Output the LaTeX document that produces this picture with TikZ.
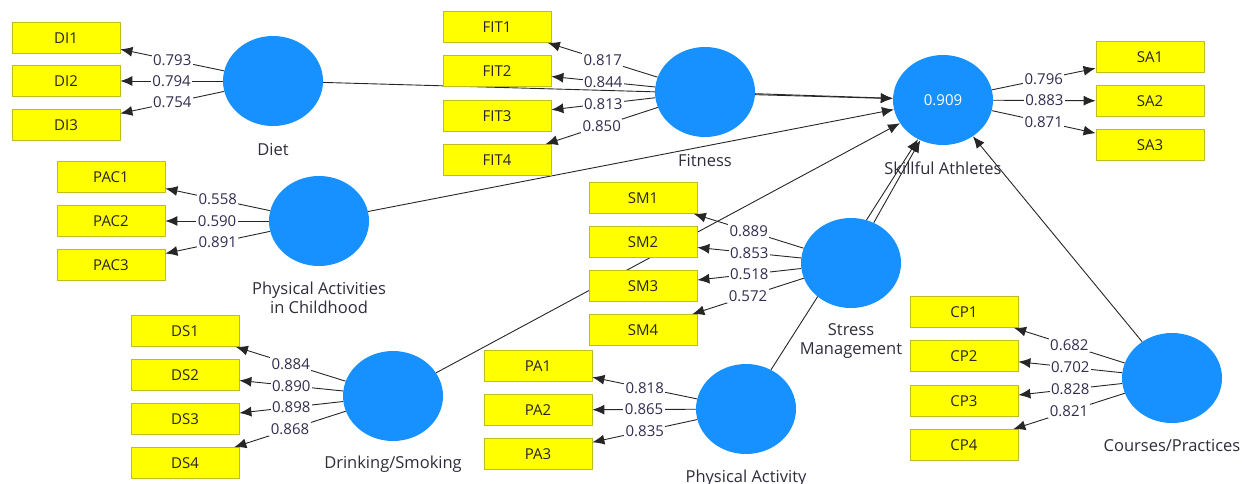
\documentclass[tikz,border=0pt]{standalone}
\usepackage{fontspec}
\setmainfont{Open Sans}
\usepackage{xcolor}
\usetikzlibrary{arrows.meta,shapes.geometric,positioning}
\pgfdeclarelayer{bg}
\pgfsetlayers{bg,main}
\definecolor{lvblue}{RGB}{22,145,255}
\definecolor{mvyellow}{RGB}{255,255,0}
\definecolor{mvedge}{RGB}{190,190,30}
\definecolor{numtext}{RGB}{50,45,80}
\definecolor{lbltext}{RGB}{45,45,60}
\tikzset{
  latent/.style = {ellipse, fill=lvblue, minimum width=100pt, minimum height=90pt, inner sep=0pt},
  indicator/.style = {rectangle, fill=mvyellow, draw=mvedge, line width=0.8pt, minimum width=108pt, minimum height=31pt, inner sep=0pt, text=black!85, font=\fontsize{15}{17}\selectfont},
  load/.style = {-{Latex[length=12pt,width=10pt]}, line width=0.9pt, draw=black!85},
  struct/.style = {-{Latex[length=12pt,width=10pt]}, line width=0.9pt, draw=black!85},
  coef/.style = {fill=white, inner sep=1.5pt, text=numtext, font=\fontsize{15}{17}\selectfont},
  lvlabel/.style = {text=lbltext, align=center, font=\fontsize{16.5}{19}\selectfont}
}
\begin{document}
\begin{tikzpicture}[x = 1pt, y = -1pt]
  \useasboundingbox (0,0) rectangle (1242,483);
  % latent variables
  \node[latent] (diet) at (273,81) {};
  \node[latent] (fitness) at (705,92) {};
  \node[latent] (sa) at (943,100) {\color{white}\fontsize{15}{17}\selectfont 0.909};
  \node[latent] (pac) at (319,221) {};
  \node[latent] (stress) at (851,263) {};
  \node[latent] (ds) at (393,396) {};
  \node[latent] (pa) at (746,409) {};
  \node[latent] (cp) at (1172,378) {};
  % indicators
  \node[indicator] (di1) at (66,38) {DI1};
  \node[indicator] (di2) at (66,81) {DI2};
  \node[indicator] (di3) at (66,125) {DI3};
  \node[indicator] (fit1) at (497,27) {FIT1};
  \node[indicator] (fit2) at (497,71) {FIT2};
  \node[indicator] (fit3) at (497,116) {FIT3};
  \node[indicator] (fit4) at (497,160) {FIT4};
  \node[indicator] (sa1) at (1150,57) {SA1};
  \node[indicator] (sa2) at (1150,101) {SA2};
  \node[indicator] (sa3) at (1150,145) {SA3};
  \node[indicator] (pac1) at (111,177) {PAC1};
  \node[indicator] (pac2) at (111,221) {PAC2};
  \node[indicator] (pac3) at (111,265) {PAC3};
  \node[indicator] (sm1) at (643,198) {SM1};
  \node[indicator] (sm2) at (643,242) {SM2};
  \node[indicator] (sm3) at (643,286) {SM3};
  \node[indicator] (sm4) at (643,330) {SM4};
  \node[indicator] (ds1) at (185,331) {DS1};
  \node[indicator] (ds2) at (185,375) {DS2};
  \node[indicator] (ds3) at (185,419) {DS3};
  \node[indicator] (ds4) at (185,463) {DS4};
  \node[indicator] (pa1) at (538,366) {PA1};
  \node[indicator] (pa2) at (538,410) {PA2};
  \node[indicator] (pa3) at (538,454) {PA3};
  \node[indicator] (cp1) at (964,312) {CP1};
  \node[indicator] (cp2) at (964,356) {CP2};
  \node[indicator] (cp3) at (964,401) {CP3};
  \node[indicator] (cp4) at (964,445) {CP4};
  % inner model
  \begin{pgfonlayer}{bg}
    \draw[struct] (diet) -- (sa);
    \draw[struct] (fitness) -- (sa);
    \draw[struct] (pac) -- (sa);
    \draw[struct] (ds) -- (sa);
    \draw[struct] (stress) -- (sa);
    \draw[struct] (pa) -- (sa);
    \draw[struct] (cp) -- (sa);
  \end{pgfonlayer}
  % outer loadings
  \draw[load] (diet) -- node[coef] (ldi1) {0.793} (di1);
  \draw[load] (diet) -- node[coef] (ldi2) {0.794} (di2);
  \draw[load] (diet) -- node[coef] (ldi3) {0.754} (di3);
  \draw[load] (fitness) -- node[coef] (lfit1) {0.817} (fit1);
  \draw[load] (fitness) -- node[coef] (lfit2) {0.844} (fit2);
  \draw[load] (fitness) -- node[coef] (lfit3) {0.813} (fit3);
  \draw[load] (fitness) -- node[coef] (lfit4) {0.850} (fit4);
  \draw[load] (sa) -- node[coef] (lsa1) {0.796} (sa1);
  \draw[load] (sa) -- node[coef] (lsa2) {0.883} (sa2);
  \draw[load] (sa) -- node[coef] (lsa3) {0.871} (sa3);
  \draw[load] (pac) -- node[coef] (lpac1) {0.558} (pac1);
  \draw[load] (pac) -- node[coef] (lpac2) {0.590} (pac2);
  \draw[load] (pac) -- node[coef] (lpac3) {0.891} (pac3);
  \draw[load] (stress) -- node[coef] (lsm1) {0.889} (sm1);
  \draw[load] (stress) -- node[coef] (lsm2) {0.853} (sm2);
  \draw[load] (stress) -- node[coef] (lsm3) {0.518} (sm3);
  \draw[load] (stress) -- node[coef] (lsm4) {0.572} (sm4);
  \draw[load] (ds) -- node[coef] (lds1) {0.884} (ds1);
  \draw[load] (ds) -- node[coef] (lds2) {0.890} (ds2);
  \draw[load] (ds) -- node[coef] (lds3) {0.898} (ds3);
  \draw[load] (ds) -- node[coef] (lds4) {0.868} (ds4);
  \draw[load] (pa) -- node[coef] (lpa1) {0.818} (pa1);
  \draw[load] (pa) -- node[coef] (lpa2) {0.865} (pa2);
  \draw[load] (pa) -- node[coef] (lpa3) {0.835} (pa3);
  \draw[load] (cp) -- node[coef] (lcp1) {0.682} (cp1);
  \draw[load] (cp) -- node[coef] (lcp2) {0.702} (cp2);
  \draw[load] (cp) -- node[coef] (lcp3) {0.828} (cp3);
  \draw[load] (cp) -- node[coef] (lcp4) {0.821} (cp4);
  % Labels
  \node[lvlabel] (dietlbl) at (273,150) {Diet};
  \node[lvlabel] (fitlbl) at (705,161) {Fitness};
  \node[lvlabel] (salbl) at (943,168) {Skillful Athletes};
  \node[lvlabel] (paclbl) at (319,298) {Physical Activities\\in Childhood};
  \node[lvlabel] (smlbl) at (851,341) {Stress\\Management};
  \node[lvlabel] (dslbl) at (393,464) {Drinking/Smoking};
  \node[lvlabel] (palbl) at (746,478) {Physical Activity};
  \node[lvlabel] (cplbl) at (1172,446) {Courses/Practices};
\end{tikzpicture}
\end{document}
